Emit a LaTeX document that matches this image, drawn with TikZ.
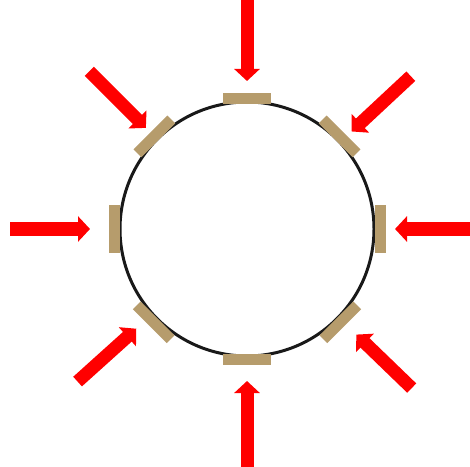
\documentclass[tikz,border=0pt]{standalone}
\usepackage{xcolor}
\usepackage{tikz}
\usetikzlibrary{arrows.meta}
\definecolor{padtan}{HTML}{B69C6C}
\definecolor{pushred}{HTML}{FF0000}

\begin{document}
\begin{tikzpicture}[x=1pt, y=1pt,
  pad/.style={fill=padtan, draw=none, minimum width=48pt, minimum height=11pt, inner sep=0pt},
  push/.style={draw=pushred, line width=13pt, -{Triangle[width=25pt, length=12pt]}}]
\useasboundingbox (0,0) rectangle (470,466);
\coordinate (c) at (247,237);
\draw[black!90, line width=3pt] (c) circle[radius=127];
% pads on the ring
\node[pad, rotate=0]   (padN)  at ([shift={(90:130)}]c) {};
\node[pad, rotate=-45] (padNE) at ([shift={(45:131)}]c) {};
\node[pad, rotate=90]  (padE)  at ([shift={(0:133)}]c) {};
\node[pad, rotate=45]  (padSE) at ([shift={(-45:132)}]c) {};
\node[pad, rotate=0]   (padS)  at ([shift={(-90:130)}]c) {};
\node[pad, rotate=-45] (padSW) at ([shift={(-135:132)}]c) {};
\node[pad, rotate=90]  (padW)  at ([shift={(180:133)}]c) {};
\node[pad, rotate=45]  (padNW) at ([shift={(135:131)}]c) {};
% arrow ends
\coordinate (outN)  at ([shift={(90:240)}]c);
\coordinate (inN)   at ([shift={(90:148)}]c);
\coordinate (outNE) at ([shift={(43:224)}]c);
\coordinate (inNE)  at ([shift={(43:143)}]c);
\coordinate (outE)  at ([shift={(0:240)}]c);
\coordinate (inE)   at ([shift={(0:148)}]c);
\coordinate (outSE) at ([shift={(-44:229)}]c);
\coordinate (inSE)  at ([shift={(-44:152)}]c);
\coordinate (outS)  at ([shift={(-90:240)}]c);
\coordinate (inS)   at ([shift={(-90:152)}]c);
\coordinate (outSW) at ([shift={(-138:228)}]c);
\coordinate (inSW)  at ([shift={(-138:149)}]c);
\coordinate (outW)  at ([shift={(180:237)}]c);
\coordinate (inW)   at ([shift={(180:157)}]c);
\coordinate (outNW) at ([shift={(135:223)}]c);
\coordinate (inNW)  at ([shift={(135:143)}]c);
% pushing arrows
\draw[push] (outN) -- (inN);
\draw[push] (outNE) -- (inNE);
\draw[push] (outE) -- (inE);
\draw[push] (outSE) -- (inSE);
\draw[push] (outS) -- (inS);
\draw[push] (outSW) -- (inSW);
\draw[push] (outW) -- (inW);
\draw[push] (outNW) -- (inNW);
\end{tikzpicture}
\end{document}
